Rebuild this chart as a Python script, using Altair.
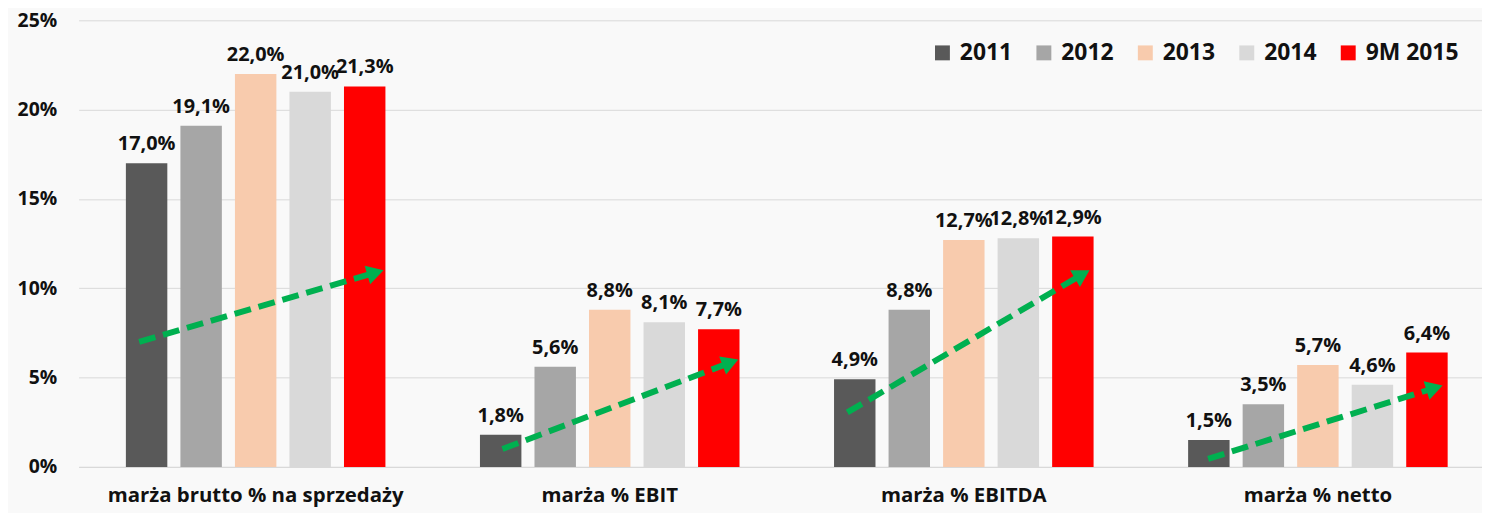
import math
import altair as alt
import pandas as pd

groups = ["marża brutto % na sprzedaży", "marża % EBIT", "marża % EBITDA", "marża % netto"]
years = ["2011", "2012", "2013", "2014", "9M 2015"]
colors = ["#595959", "#a6a6a6", "#f8cbad", "#d9d9d9", "#ff0000"]

v2011 = [17.0, 1.8, 4.9, 1.5]
v2012 = [19.1, 5.6, 8.8, 3.5]
v2013 = [22.0, 8.8, 12.7, 5.7]
v2014 = [21.0, 8.1, 12.8, 4.6]
v2015 = [21.3, 7.7, 12.9, 6.4]

y_ticks = [0, 5, 10, 15, 20, 25]

# trend arrows (x in group units 0..4, y in %)
arrow_x0 = [0.171, 1.197, 2.171, 3.190]
arrow_y0 = [7.0, 1.0, 3.05, 0.45]
arrow_x1 = [0.860, 1.862, 2.854, 3.851]
arrow_y1 = [11.0, 6.0, 11.0, 4.55]

FONT = "Open Sans"
PLOT_W, PLOT_H = 1403, 449
RANGE_W = 1424
PX_X = RANGE_W / 4.0
PX_Y = PLOT_H / 25.0

series = [v2011, v2012, v2013, v2014, v2015]
rows = []
for yi, yr in enumerate(years):
    for gi, g in enumerate(groups):
        val = series[yi][gi]
        rows.append({"group": g, "year": yr, "value": val,
                     "label": f"{val:.1f}".replace(".", ",") + "%"})
df = pd.DataFrame(rows)

line_rows, head_rows = [], []
for gi, g in enumerate(groups):
    dxp = (arrow_x1[gi] - arrow_x0[gi]) * PX_X
    dyp = (arrow_y1[gi] - arrow_y0[gi]) * PX_Y
    L = math.hypot(dxp, dyp)
    ux, uy = dxp / L, dyp / L
    back = 8.0
    hx = arrow_x1[gi] - back * ux / PX_X
    hy = arrow_y1[gi] - back * uy / PX_Y
    ang = math.degrees(math.atan2(dxp, dyp))
    line_rows.append({"g": g, "ax": arrow_x0[gi], "value": arrow_y0[gi], "o": 0})
    line_rows.append({"g": g, "ax": hx, "value": hy, "o": 1})
    head_rows.append({"g": g, "ax": hx, "value": hy, "ang": ang})
ldf = pd.DataFrame(line_rows)
hdf = pd.DataFrame(head_rows)

y_enc = alt.Y("value:Q", scale=alt.Scale(domain=[0, 25], nice=False),
              axis=alt.Axis(values=y_ticks, labelExpr="datum.value + '%'", title=None,
                            grid=True, gridColor="#d9d9d9", ticks=False, domain=False,
                            labelPadding=22, labelFontSize=19.5, labelFont=FONT,
                            labelFontWeight="bold", labelColor="#111111"))
x_enc = alt.X("group:N", sort=groups,
              scale=alt.Scale(range=[0, RANGE_W], paddingInner=0.267, paddingOuter=0.1335),
              axis=alt.Axis(title=None, ticks=False, domain=True, domainColor="#d9d9d9",
                            labelAngle=0, labelPadding=19, labelFontSize=20.5, labelFont=FONT,
                            labelFontWeight="bold", labelColor="#111111", labelLimit=0))
xo_enc = alt.XOffset("year:N", sort=years, scale=alt.Scale(paddingInner=0.24))

bars = alt.Chart(df).mark_bar().encode(
    x=x_enc, xOffset=xo_enc, y=y_enc,
    color=alt.Color("year:N", sort=years, scale=alt.Scale(domain=years, range=colors),
                    legend=alt.Legend(title=None, orient="none", legendX=857, legendY=21,
                                      direction="horizontal", columns=5, columnPadding=20,
                                      symbolType="square", symbolSize=225, symbolStrokeWidth=0,
                                      labelFontSize=23, labelFont=FONT, labelFontWeight="bold",
                                      labelColor="#111111", labelOffset=6))
)

labels = alt.Chart(df).mark_text(baseline="bottom", dy=-9, fontSize=20, font=FONT,
                                 fontWeight="bold", color="#111111").encode(
    x=x_enc, xOffset=xo_enc, y=y_enc, text="label:N")

ax_enc = alt.X("ax:Q", scale=alt.Scale(domain=[0, 4], range=[0, RANGE_W], nice=False), axis=None)
arrows = alt.Chart(ldf).mark_line(color="#00b050", strokeWidth=6, strokeDash=[17, 8],
                                  strokeCap="butt").encode(
    x=ax_enc, y=y_enc, detail="g:N", order="o:Q")
heads = alt.Chart(hdf).mark_point(shape="triangle-up", filled=True, opacity=1,
                                  color="#00b050", size=380).encode(
    x=ax_enc, y=y_enc, angle=alt.Angle("ang:Q", scale=None))

chart = alt.layer(alt.layer(bars, labels), alt.layer(arrows, heads)).resolve_scale(
    x="independent").properties(
    width=PLOT_W, height=PLOT_H,
    autosize=alt.AutoSizeParams(type="none"),
    padding={"left": 71, "top": 11, "right": 8, "bottom": 45},
    background="#f9f9f9",
).configure_view(stroke=None)

chart.save("out.html", embed_options={"renderer": "svg", "actions": False})
